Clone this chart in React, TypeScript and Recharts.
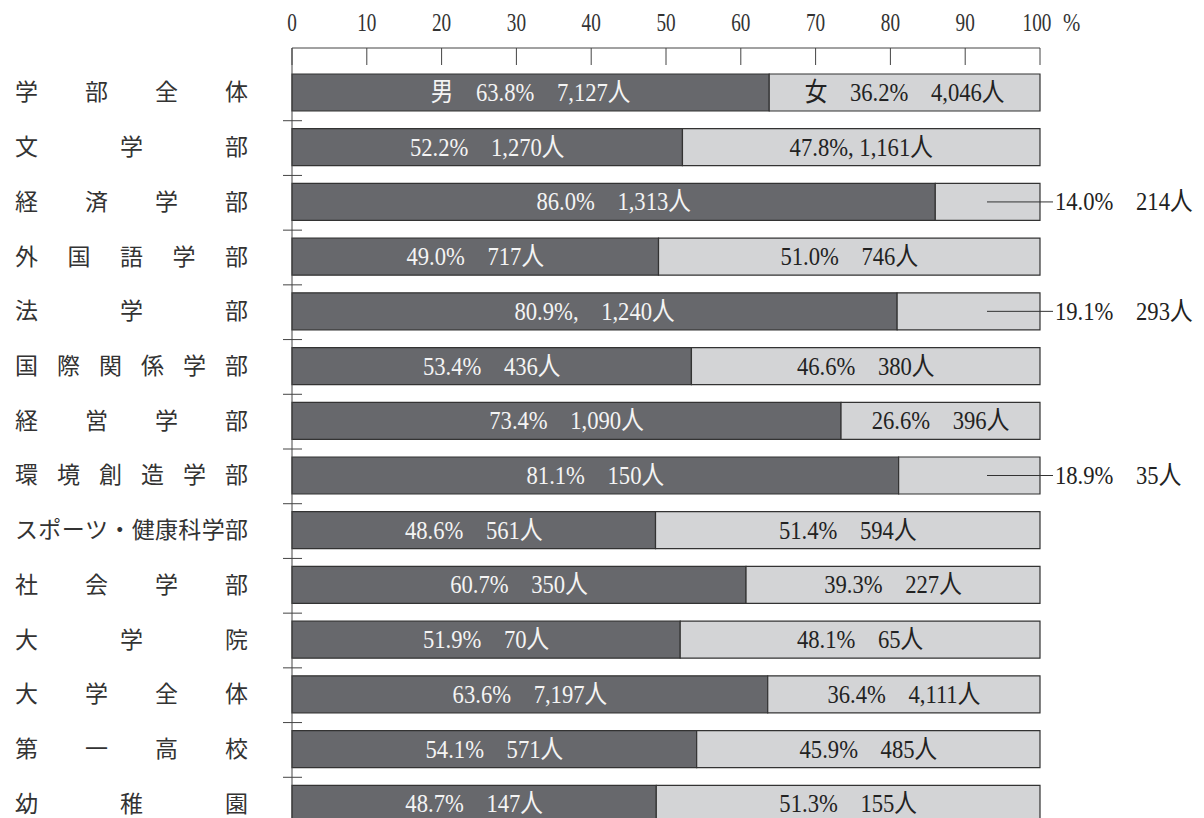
import React from 'react';
import { BarChart, Bar, XAxis, YAxis, LabelList } from 'recharts';

const categories = ['学部全体','文学部','経済学部','外国語学部','法学部','国際関係学部','経営学部','環境創造学部','スポーツ・健康科学部','社会学部','大学院','大学全体','第一高校','幼稚園'];
const malePct = [63.8,52.2,86.0,49.0,80.9,53.4,73.4,81.1,48.6,60.7,51.9,63.6,54.1,48.7];
const femalePct = [36.2,47.8,14.0,51.0,19.1,46.6,26.6,18.9,51.4,39.3,48.1,36.4,45.9,51.3];
const maleLabels = ['男　63.8%　7,127人','52.2%　1,270人','86.0%　1,313人','49.0%　717人','80.9%,　1,240人','53.4%　436人','73.4%　1,090人','81.1%　150人','48.6%　561人','60.7%　350人','51.9%　70人','63.6%　7,197人','54.1%　571人','48.7%　147人'];
const femaleLabels = ['女　36.2%　4,046人','47.8%, 1,161人','14.0%　214人','51.0%　746人','19.1%　293人','46.6%　380人','26.6%　396人','18.9%　35人','51.4%　594人','39.3%　227人','48.1%　65人','36.4%　4,111人','45.9%　485人','51.3%　155人'];
const femaleOutside = [false,false,true,false,true,false,false,true,false,false,false,false,false,false];
const xTicks = [0,10,20,30,40,50,60,70,80,90,100];

const data = categories.map((name, i) => ({
  name,
  male: malePct[i],
  female: femalePct[i],
  maleLabel: maleLabels[i],
  femaleLabel: femaleLabels[i],
}));

const NUM_FONT = "'Liberation Serif', 'Noto Sans CJK JP', serif";
const CJK_FONT = "'Noto Sans CJK JP', sans-serif";
const AXIS_COLOR = '#444';

const XTick = (props: any) => {
  const { x, y, payload } = props;
  const v = payload.value;
  return (
    <g>
      <line x1={x} y1={y} x2={x} y2={y + 17} stroke={AXIS_COLOR} strokeWidth={1} />
      <text transform={`translate(${v === 100 ? x - 3 : x},${y - 17}) scale(0.74,1)`} x={0} y={0} textAnchor="middle" fontFamily={NUM_FONT} fontSize={26} fill="#333">{String(v)}</text>
      {v === 100 ? (
        <text transform={`translate(${x + 23},${y - 17}) scale(0.8,1)`} x={0} y={0} textAnchor="start" fontFamily={NUM_FONT} fontSize={26} fill="#333">%</text>
      ) : null}
    </g>
  );
};

const YTick = (props: any) => {
  const { x, y, payload, index } = props;
  const label: string = String(payload.value);
  const chars = Array.from(label);
  const n = chars.length;
  const fs = 23;
  const left = x - 277;
  const right = x - 44;
  const step = n > 1 ? (right - left - fs) / (n - 1) : 0;
  const half = payload.offset != null ? payload.offset : 27.35;
  const isLast = index === categories.length - 1;
  return (
    <g>
      {chars.map((c, i) => (
        <text key={i} x={left + i * step} y={y + 8} textAnchor="start" fontFamily={CJK_FONT} fontSize={fs} fill="#333">{c}</text>
      ))}
      {!isLast ? (
        <line x1={x - 9} x2={x + 10} y1={y + half + 1} y2={y + half + 1} stroke={AXIS_COLOR} strokeWidth={1} />
      ) : null}
    </g>
  );
};

const LabelText = ({ x, y, anchor, fill, value }: any) => (
  <text transform={`translate(${x},${y}) scale(0.87,1)`} x={0} y={0} textAnchor={anchor} fontFamily={NUM_FONT} fontSize={26} fill={fill}>{value}</text>
);

const renderMale = (props: any) => {
  const { x, y, width, height, value } = props;
  return <LabelText x={x + width / 2} y={y + height / 2 + 8.5} anchor="middle" fill="#f4f4f4" value={value} />;
};

const renderFemale = (props: any) => {
  const { x, y, width, height, value } = props;
  const idx = femaleLabels.indexOf(String(value));
  const outside = idx >= 0 && femaleOutside[idx];
  const cy = y + height / 2;
  if (outside) {
    const end = x + width;
    return (
      <g>
        <line x1={end - 53} x2={end + 13} y1={cy} y2={cy} stroke="#333" strokeWidth={1} />
        <LabelText x={end + 15} y={cy + 8.5} anchor="start" fill="#222" value={value} />
      </g>
    );
  }
  return <LabelText x={x + width / 2} y={cy + 8.5} anchor="middle" fill="#222" value={value} />;
};

export default function App() {
  return (
    <div style={{ position: 'fixed', top: 0, left: 0, width: 1204, height: 818, overflow: 'hidden', background: '#fff' }}>
      <BarChart
        width={1204}
        height={831}
        data={data}
        layout="vertical"
        margin={{ top: 18, right: 164, bottom: 0, left: 0 }}
        barSize={37}
      >
        <XAxis
          type="number"
          orientation="top"
          domain={[0, 100]}
          ticks={xTicks}
          height={30}
          tickSize={0}
          tickMargin={0}
          tickLine={false}
          axisLine={{ stroke: AXIS_COLOR, strokeWidth: 1 }}
          tick={<XTick />}
          interval={0}
        />
        <YAxis
          type="category"
          dataKey="name"
          width={292}
          padding={{ top: 17, bottom: 0 }}
          tickSize={0}
          tickMargin={0}
          tickLine={false}
          axisLine={{ stroke: AXIS_COLOR, strokeWidth: 1 }}
          tick={<YTick />}
          interval={0}
        />
        <Bar dataKey="male" stackId="a" fill="#67686c" stroke="#333" strokeWidth={1.2} isAnimationActive={false}>
          <LabelList dataKey="maleLabel" content={renderMale} />
        </Bar>
        <Bar dataKey="female" stackId="a" fill="#d3d4d6" stroke="#333" strokeWidth={1.2} isAnimationActive={false}>
          <LabelList dataKey="femaleLabel" content={renderFemale} />
        </Bar>
      </BarChart>
    </div>
  );
}
